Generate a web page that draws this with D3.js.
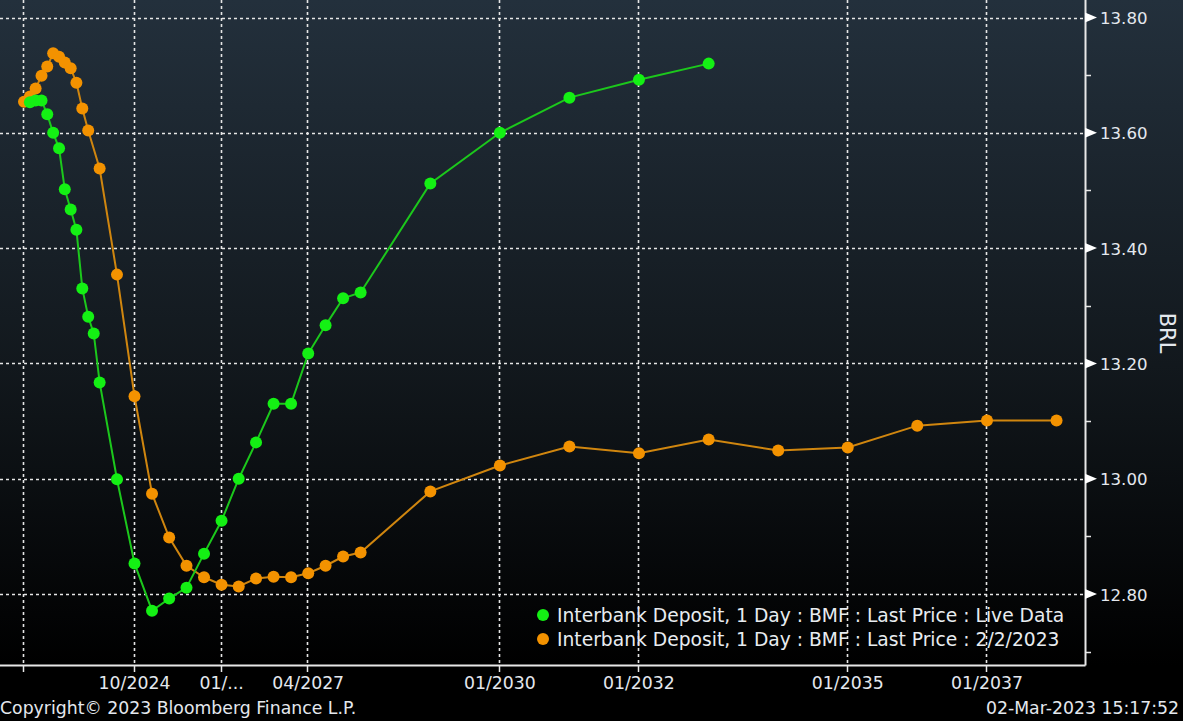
<!DOCTYPE html>
<html>
<head>
<meta charset="utf-8">
<script src="https://cdn.jsdelivr.net/npm/d3@7"></script>
<style>
  html, body { margin: 0; padding: 0; background: #000; }
  svg { display: block; }
  text { font-family: "DejaVu Sans", sans-serif; }
</style>
</head>
<body>
<svg id="chart"></svg>
<script>
// contract months (year, month) and rates
const liveDates = [
  [2023,4],[2023,5],[2023,6],[2023,7],[2023,8],[2023,9],[2023,10],[2023,11],[2023,12],
  [2024,1],[2024,2],[2024,3],[2024,4],[2024,7],[2024,10],
  [2025,1],[2025,4],[2025,7],[2025,10],[2026,1],[2026,4],[2026,7],[2026,10],
  [2027,1],[2027,4],[2027,7],[2027,10],[2028,1],
  [2029,1],[2030,1],[2031,1],[2032,1],[2033,1]
];
const liveValues = [
  13.653, 13.656, 13.656, 13.632, 13.600, 13.573, 13.502, 13.467, 13.432,
  13.330, 13.281, 13.252, 13.167, 12.999, 12.853,
  12.771, 12.792, 12.811, 12.870, 12.927, 13.000, 13.063, 13.130,
  13.130, 13.217, 13.266, 13.313, 13.323,
  13.512, 13.600, 13.661, 13.692, 13.720
];

const febDates = [
  [2023,3],[2023,4],[2023,5],[2023,6],[2023,7],[2023,8],[2023,9],[2023,10],[2023,11],[2023,12],
  [2024,1],[2024,2],[2024,4],[2024,7],[2024,10],
  [2025,1],[2025,4],[2025,7],[2025,10],[2026,1],[2026,4],[2026,7],[2026,10],
  [2027,1],[2027,4],[2027,7],[2027,10],[2028,1],
  [2029,1],[2030,1],[2031,1],[2032,1],[2033,1],[2034,1],[2035,1],[2036,1],[2037,1],[2038,1]
];
const febValues = [
  13.654, 13.663, 13.677, 13.699, 13.715, 13.738, 13.732, 13.722, 13.712, 13.687,
  13.642, 13.604, 13.538, 13.354, 13.143,
  12.974, 12.898, 12.849, 12.829, 12.816, 12.813, 12.827, 12.830,
  12.829, 12.836, 12.849, 12.865, 12.872,
  12.978, 13.023, 13.056, 13.044, 13.068, 13.049, 13.054, 13.092, 13.101, 13.101
];

const xTickDates = [[2023,3],[2024,10],[2026,1],[2027,4],[2030,1],[2032,1],[2035,1],[2037,1]];
const xTickLabels = ["", "10/2024", "01/...", "04/2027", "01/2030", "01/2032", "01/2035", "01/2037"];
const yTicks = [12.8, 13.0, 13.2, 13.4, 13.6, 13.8];
const yMinorTicks = [12.7, 12.9, 13.1, 13.3, 13.5, 13.7];

const legendLabels = [
  "Interbank Deposit, 1 Day : BMF : Last Price : Live Data",
  "Interbank Deposit, 1 Day : BMF : Last Price : 2/2/2023"
];

const W = 1183, H = 721;
const plotRight = 1085, plotBottom = 665;
const textColor = "#e4e8ee";

const toDate = d => new Date(d[0], d[1] - 1, 1);

const svg = d3.select("#chart").attr("width", W).attr("height", H);

// background gradient
const defs = svg.append("defs");
const grad = defs.append("linearGradient")
  .attr("id", "bg").attr("x1", 0).attr("y1", 0).attr("x2", 0).attr("y2", 1);
grad.append("stop").attr("offset", "0%").attr("stop-color", "#23303c");
grad.append("stop").attr("offset", "55%").attr("stop-color", "#12181d");
grad.append("stop").attr("offset", "100%").attr("stop-color", "#000000");

svg.append("rect").attr("width", W).attr("height", H).attr("fill", "#000");
svg.append("rect").attr("width", W).attr("height", plotBottom).attr("fill", "url(#bg)");

const x = d3.scaleTime()
  .domain([new Date(2024, 9, 1), new Date(2037, 0, 1)])
  .range([134.5, 987]);
const y = d3.scaleLinear()
  .domain([12.8, 13.8])
  .range([594, 17.5]);

// grid
const grid = svg.append("g")
  .attr("stroke", "#e6e6e6")
  .attr("stroke-width", 1.6)
  .attr("stroke-dasharray", "3,3");
grid.selectAll("line.h").data(yTicks).join("line")
  .attr("class", "h")
  .attr("x1", 0).attr("x2", plotRight)
  .attr("y1", d => Math.round(y(d)) + 0.5).attr("y2", d => Math.round(y(d)) + 0.5);
grid.selectAll("line.v").data(xTickDates).join("line")
  .attr("class", "v")
  .attr("x1", d => Math.round(x(toDate(d))) - 0.5).attr("x2", d => Math.round(x(toDate(d))) - 0.5)
  .attr("y1", 0).attr("y2", plotBottom);

// axes lines
svg.append("line")
  .attr("x1", 0).attr("x2", plotRight + 0.5)
  .attr("y1", plotBottom + 0.5).attr("y2", plotBottom + 0.5)
  .attr("stroke", "#e8e8e8").attr("stroke-width", 2);
svg.append("line")
  .attr("x1", plotRight + 0.5).attr("x2", plotRight + 0.5)
  .attr("y1", 0).attr("y2", plotBottom + 0.5)
  .attr("stroke", "#e8e8e8").attr("stroke-width", 2);

// x ticks
svg.selectAll("line.xt").data(xTickDates).join("line")
  .attr("class", "xt")
  .attr("x1", d => Math.round(x(toDate(d))) - 0.5).attr("x2", d => Math.round(x(toDate(d))) - 0.5)
  .attr("y1", plotBottom).attr("y2", plotBottom + 7)
  .attr("stroke", "#e8e8e8").attr("stroke-width", 1.5);
svg.selectAll("text.xl").data(xTickDates).join("text")
  .attr("class", "xl")
  .attr("x", d => x(toDate(d)))
  .attr("y", 689)
  .attr("text-anchor", "middle")
  .attr("fill", textColor)
  .attr("font-size", 17.3)
  .text((d, i) => xTickLabels[i]);

// y ticks: triangles + minor ticks
svg.selectAll("path.yt").data(yTicks).join("path")
  .attr("class", "yt")
  .attr("d", d => {
    const yy = y(d);
    return `M${plotRight},${yy - 5}L${plotRight + 12},${yy}L${plotRight},${yy + 5}Z`;
  })
  .attr("fill", "#ffffff");
svg.selectAll("line.ym").data(yMinorTicks).join("line")
  .attr("class", "ym")
  .attr("x1", plotRight).attr("x2", plotRight + 6)
  .attr("y1", d => Math.round(y(d)) + 0.5).attr("y2", d => Math.round(y(d)) + 0.5)
  .attr("stroke", "#e8e8e8").attr("stroke-width", 1.5);
svg.selectAll("text.yl").data(yTicks).join("text")
  .attr("class", "yl")
  .attr("x", 1100)
  .attr("y", d => y(d) + 6.5)
  .attr("fill", textColor)
  .attr("font-size", 16.6)
  .text(d => d.toFixed(2));

svg.append("text")
  .attr("transform", "translate(1160,333) rotate(90)")
  .attr("text-anchor", "middle")
  .attr("fill", textColor)
  .attr("font-size", 21)
  .text("BRL");

// series
const line = d3.line()
  .x(d => x(d.date))
  .y(d => y(d.value));

const series = [
  { name: "feb", data: febDates.map((d, i) => ({ date: toDate(d), value: febValues[i] })),
    line: "#d0860f", dot: "#f39200" },
  { name: "live", data: liveDates.map((d, i) => ({ date: toDate(d), value: liveValues[i] })),
    line: "#1cc81c", dot: "#14f014" }
];

const plot = svg.append("g");
series.forEach(s => {
  plot.append("path")
    .datum(s.data)
    .attr("d", line)
    .attr("fill", "none")
    .attr("stroke", s.line)
    .attr("stroke-width", 2);
  plot.selectAll("circle." + s.name).data(s.data).join("circle")
    .attr("class", s.name)
    .attr("cx", d => x(d.date))
    .attr("cy", d => y(d.value))
    .attr("r", 6)
    .attr("fill", s.dot);
});

// legend
const legendColors = ["#14f014", "#f39200"];
const legend = svg.append("g");
legend.selectAll("circle").data(legendLabels).join("circle")
  .attr("cx", 543)
  .attr("cy", (d, i) => 615 + i * 24)
  .attr("r", 6)
  .attr("fill", (d, i) => legendColors[i]);
legend.selectAll("text").data(legendLabels).join("text")
  .attr("x", 557)
  .attr("y", (d, i) => 622 + i * 24)
  .attr("fill", "#e8ecf0")
  .attr("font-size", 18.7)
  .text(d => d);

// footer
svg.append("text")
  .attr("x", 0).attr("y", 714)
  .attr("fill", textColor).attr("font-size", 17.3)
  .text("Copyright\u00a9 2023 Bloomberg Finance L.P.");
svg.append("text")
  .attr("x", 1179).attr("y", 714)
  .attr("text-anchor", "end")
  .attr("fill", textColor).attr("font-size", 17.3)
  .text("02-Mar-2023 15:17:52");
</script>
</body>
</html>
